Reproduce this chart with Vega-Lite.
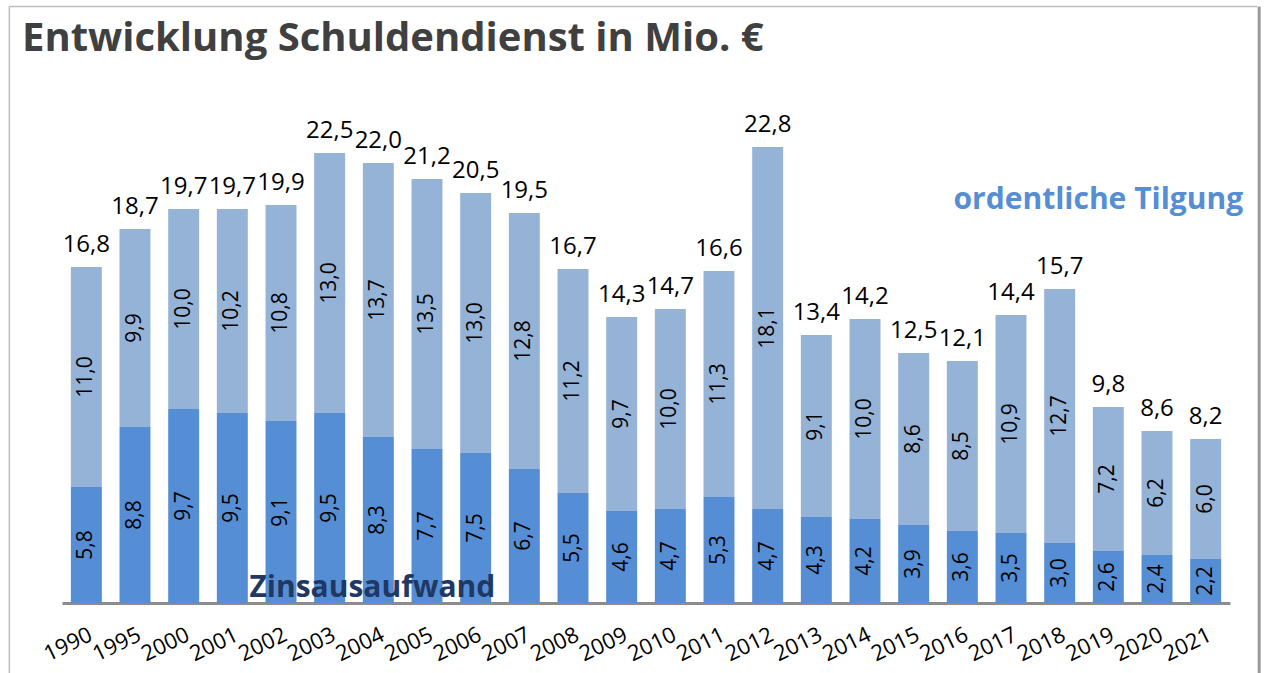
{
  "$schema": "https://vega.github.io/schema/vega-lite/v6.json",
  "width": 1168,
  "height": 500,
  "autosize": {"type": "none"},
  "padding": {"left": 62, "top": 103, "right": 38, "bottom": 70},
  "background": "white",
  "title": {
    "text": "Entwicklung Schuldendienst in Mio. €",
    "anchor": "start",
    "frame": "group",
    "font": "Open Sans",
    "fontSize": 40,
    "fontWeight": "bold",
    "color": "#404040",
    "dx": -40,
    "offset": 43,
    "dy": 97
  },
  "config": {
    "view": {"stroke": null},
    "locale": {"number": {"decimal": ",", "thousands": ".", "grouping": [3], "currency": ["", " €"]}}
  },
  "data": {
    "values": [
      {"Jahr": "1990", "Art": "Zinsaufwand", "Wert": 5.8}, {"Jahr": "1990", "Art": "ordentliche Tilgung", "Wert": 11.0},
      {"Jahr": "1995", "Art": "Zinsaufwand", "Wert": 8.8}, {"Jahr": "1995", "Art": "ordentliche Tilgung", "Wert": 9.9},
      {"Jahr": "2000", "Art": "Zinsaufwand", "Wert": 9.7}, {"Jahr": "2000", "Art": "ordentliche Tilgung", "Wert": 10.0},
      {"Jahr": "2001", "Art": "Zinsaufwand", "Wert": 9.5}, {"Jahr": "2001", "Art": "ordentliche Tilgung", "Wert": 10.2},
      {"Jahr": "2002", "Art": "Zinsaufwand", "Wert": 9.1}, {"Jahr": "2002", "Art": "ordentliche Tilgung", "Wert": 10.8},
      {"Jahr": "2003", "Art": "Zinsaufwand", "Wert": 9.5}, {"Jahr": "2003", "Art": "ordentliche Tilgung", "Wert": 13.0},
      {"Jahr": "2004", "Art": "Zinsaufwand", "Wert": 8.3}, {"Jahr": "2004", "Art": "ordentliche Tilgung", "Wert": 13.7},
      {"Jahr": "2005", "Art": "Zinsaufwand", "Wert": 7.7}, {"Jahr": "2005", "Art": "ordentliche Tilgung", "Wert": 13.5},
      {"Jahr": "2006", "Art": "Zinsaufwand", "Wert": 7.5}, {"Jahr": "2006", "Art": "ordentliche Tilgung", "Wert": 13.0},
      {"Jahr": "2007", "Art": "Zinsaufwand", "Wert": 6.7}, {"Jahr": "2007", "Art": "ordentliche Tilgung", "Wert": 12.8},
      {"Jahr": "2008", "Art": "Zinsaufwand", "Wert": 5.5}, {"Jahr": "2008", "Art": "ordentliche Tilgung", "Wert": 11.2},
      {"Jahr": "2009", "Art": "Zinsaufwand", "Wert": 4.6}, {"Jahr": "2009", "Art": "ordentliche Tilgung", "Wert": 9.7},
      {"Jahr": "2010", "Art": "Zinsaufwand", "Wert": 4.7}, {"Jahr": "2010", "Art": "ordentliche Tilgung", "Wert": 10.0},
      {"Jahr": "2011", "Art": "Zinsaufwand", "Wert": 5.3}, {"Jahr": "2011", "Art": "ordentliche Tilgung", "Wert": 11.3},
      {"Jahr": "2012", "Art": "Zinsaufwand", "Wert": 4.7}, {"Jahr": "2012", "Art": "ordentliche Tilgung", "Wert": 18.1},
      {"Jahr": "2013", "Art": "Zinsaufwand", "Wert": 4.3}, {"Jahr": "2013", "Art": "ordentliche Tilgung", "Wert": 9.1},
      {"Jahr": "2014", "Art": "Zinsaufwand", "Wert": 4.2}, {"Jahr": "2014", "Art": "ordentliche Tilgung", "Wert": 10.0},
      {"Jahr": "2015", "Art": "Zinsaufwand", "Wert": 3.9}, {"Jahr": "2015", "Art": "ordentliche Tilgung", "Wert": 8.6},
      {"Jahr": "2016", "Art": "Zinsaufwand", "Wert": 3.6}, {"Jahr": "2016", "Art": "ordentliche Tilgung", "Wert": 8.5},
      {"Jahr": "2017", "Art": "Zinsaufwand", "Wert": 3.5}, {"Jahr": "2017", "Art": "ordentliche Tilgung", "Wert": 10.9},
      {"Jahr": "2018", "Art": "Zinsaufwand", "Wert": 3.0}, {"Jahr": "2018", "Art": "ordentliche Tilgung", "Wert": 12.7},
      {"Jahr": "2019", "Art": "Zinsaufwand", "Wert": 2.6}, {"Jahr": "2019", "Art": "ordentliche Tilgung", "Wert": 7.2},
      {"Jahr": "2020", "Art": "Zinsaufwand", "Wert": 2.4}, {"Jahr": "2020", "Art": "ordentliche Tilgung", "Wert": 6.2},
      {"Jahr": "2021", "Art": "Zinsaufwand", "Wert": 2.2}, {"Jahr": "2021", "Art": "ordentliche Tilgung", "Wert": 6.0}
    ]
  },
  "encoding": {
    "x": {
      "field": "Jahr",
      "type": "nominal",
      "sort": null,
      "scale": {"paddingInner": 0.364, "paddingOuter": 0.182},
      "axis": {
        "title": null,
        "labelAngle": -26,
        "labelAlign": "right",
        "labelBaseline": "top",
        "labelFont": "Open Sans",
        "labelFontSize": 22,
        "labelColor": "#000000",
        "labelPadding": 21,
        "labelOffset": 0,
        "ticks": false,
        "domainColor": "#8c8c8c",
        "domainWidth": 3
      }
    }
  },
  "layer": [
    {
      "mark": {"type": "bar"},
      "encoding": {
        "y": {"field": "Wert", "type": "quantitative", "stack": "zero", "scale": {"domain": [0, 25], "nice": false}, "axis": null},
        "color": {
          "field": "Art",
          "type": "nominal",
          "scale": {"domain": ["Zinsaufwand", "ordentliche Tilgung"], "range": ["#558ED5", "#95B3D7"]},
          "legend": null
        },
        "order": {"field": "Art", "sort": "ascending"}
      }
    },
    {
      "mark": {"type": "text", "angle": 270, "align": "center", "baseline": "middle", "font": "Open Sans", "fontSize": 21, "color": "#000000"},
      "encoding": {
        "y": {"field": "Wert", "type": "quantitative", "stack": "zero", "bandPosition": 0.5},
        "detail": {"field": "Art"},
        "order": {"field": "Art", "sort": "ascending"},
        "text": {"field": "Wert", "type": "quantitative", "format": ".1f"}
      }
    },
    {
      "mark": {"type": "text", "align": "center", "baseline": "alphabetic", "dy": -15, "font": "Open Sans", "fontSize": 24, "color": "#000000"},
      "encoding": {
        "y": {"aggregate": "sum", "field": "Wert", "type": "quantitative"},
        "text": {"aggregate": "sum", "field": "Wert", "type": "quantitative", "format": ".1f"}
      }
    },
    {
      "data": {"values": [{}]},
      "mark": {"type": "text", "align": "center", "baseline": "middle", "dx": -10, "font": "Open Sans", "fontSize": 30, "fontWeight": "bold", "color": "#558ED5"},
      "encoding": {
        "x": {"datum": "2019", "type": "nominal"},
        "y": {"datum": 20.15, "type": "quantitative"},
        "text": {"value": "ordentliche Tilgung"}
      }
    },
    {
      "data": {"values": [{}]},
      "mark": {"type": "text", "align": "center", "baseline": "middle", "dx": -6, "font": "Open Sans", "fontSize": 30, "fontWeight": "bold", "color": "#1F3864"},
      "encoding": {
        "x": {"datum": "2004", "type": "nominal"},
        "y": {"datum": 0.75, "type": "quantitative"},
        "text": {"value": "Zinsausaufwand"}
      }
    },
    {
      "data": {"values": [{}]},
      "mark": {"type": "rule", "clip": false, "stroke": "#bdbdbd", "strokeWidth": 1.5, "xOffset": -77, "x2Offset": 51.5},
      "encoding": {
        "x": {"datum": "1990", "type": "nominal"},
        "x2": {"datum": "2021"},
        "y": {"datum": 29.825, "type": "quantitative"}
      }
    },
    {
      "data": {"values": [{}]},
      "mark": {"type": "rule", "clip": false, "stroke": "#bdbdbd", "strokeWidth": 1.5, "xOffset": -77},
      "encoding": {
        "x": {"datum": "1990", "type": "nominal"},
        "y": {"datum": 29.825, "type": "quantitative"},
        "y2": {"datum": -5}
      }
    },
    {
      "data": {"values": [{}]},
      "mark": {"type": "rule", "clip": false, "stroke": "#9a9a9a", "strokeWidth": 3, "xOffset": 53.5},
      "encoding": {
        "x": {"datum": "2021", "type": "nominal"},
        "y": {"datum": 29.825, "type": "quantitative"},
        "y2": {"datum": -5}
      }
    }
  ]
}
